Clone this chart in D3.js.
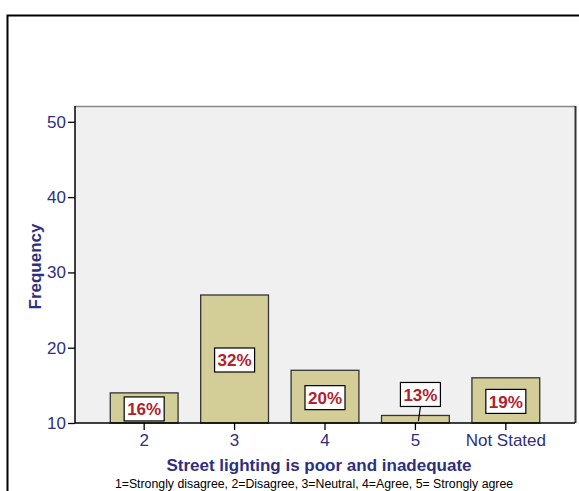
<!DOCTYPE html>
<html>
<head>
<meta charset="utf-8">
<script src="https://cdn.jsdelivr.net/npm/d3@7"></script>
<style>
	body { margin: 0; background: #fff; }
	text { font-family: "Liberation Sans", Arial, sans-serif; }
</style>
</head>
<body>
<div id="chart"></div>
<script>
var categories = ["2", "3", "4", "5", "Not Stated"];
var frequencies = [14, 27, 17, 11, 16];
var percentLabels = ["16%", "32%", "20%", "13%", "19%"];
var yTicks = [10, 20, 30, 40, 50];

var navy = "#2f2f7d";
var dims = { width: 579, height: 491 };
var plot = { left: 75, right: 575, top: 106, bottom: 423 };

var svg = d3.select("#chart")
	.append("svg")
	.attr("width", dims.width)
	.attr("height", dims.height);

// outer frame, runs off the right and bottom edges
svg.append("rect")
	.attr("x", 7.5)
	.attr("y", 15.5)
	.attr("width", 600)
	.attr("height", 600)
	.style("fill", "none")
	.style("stroke", "#000")
	.style("stroke-width", 2);

var x = d3.scaleBand()
	.domain(categories)
	.range([plot.left, plot.right])
	.paddingInner(0.25)
	.paddingOuter(0.39);

var y = d3.scaleLinear()
	.domain([10, 52.1])
	.range([plot.bottom, plot.top]);

// plot background
svg.append("rect")
	.attr("x", plot.left)
	.attr("y", plot.top)
	.attr("width", plot.right - plot.left)
	.attr("height", plot.bottom - plot.top)
	.style("fill", "#f0f0f0")
	.style("stroke", "none");
svg.append("line")
	.attr("x1", plot.left).attr("x2", plot.right)
	.attr("y1", plot.top + 0.5).attr("y2", plot.top + 0.5)
	.style("stroke", "#888").style("stroke-width", 1.5);
svg.append("line")
	.attr("x1", plot.right + 0.5).attr("x2", plot.right + 0.5)
	.attr("y1", plot.top).attr("y2", plot.bottom)
	.style("stroke", "#333").style("stroke-width", 2);

var data = categories.map(function(c, i) {
	return { cat: c, value: frequencies[i], label: percentLabels[i] };
});

svg.selectAll(".bar")
	.data(data)
	.enter()
	.append("rect")
	.attr("class", "bar")
	.attr("x", function(d) { return x(d.cat); })
	.attr("y", function(d) { return y(d.value); })
	.attr("width", x.bandwidth())
	.attr("height", function(d) { return y(10) - y(d.value); })
	.style("fill", "#d3cd98")
	.style("stroke", "#333")
	.style("stroke-width", 1.3);

// axes
var yAxis = svg.append("g")
	.attr("transform", "translate(" + plot.left + ",0)")
	.call(d3.axisLeft(y).tickValues(yTicks).tickSize(7).tickPadding(2));
var xAxis = svg.append("g")
	.attr("transform", "translate(0," + plot.bottom + ")")
	.call(d3.axisBottom(x).tickSize(7).tickPadding(4).tickSizeOuter(0));
[yAxis, xAxis].forEach(function(a) {
	a.select(".domain").style("stroke", "#000").style("stroke-width", 1.5);
	a.selectAll(".tick line").style("stroke", "#000").style("stroke-width", 1.3);
	a.selectAll(".tick text")
		.style("font-family", "'Liberation Sans', Arial, sans-serif")
		.style("font-size", "17px")
		.style("fill", navy);
});
yAxis.select(".domain").attr("d", "M0," + plot.top + "V" + plot.bottom);
xAxis.select(".domain").attr("d", "M" + plot.left + ",0H" + plot.right);

// percentage labels
var boxW = 40, boxH = 24;
var labels = svg.selectAll(".pct")
	.data(data)
	.enter()
	.append("g")
	.attr("class", "pct")
	.attr("transform", function(d) {
		var cx = x(d.cat) + x.bandwidth() / 2;
		var barH = y(10) - y(d.value);
		var cy;
		if (barH < boxH + 4) {
			cx += 5;
			cy = y(d.value) - 9 - boxH / 2;
		} else {
			cy = (y(d.value) + y(10)) / 2 + 1;
		}
		d.lx = cx; d.ly = cy;
		return "translate(" + cx + "," + cy + ")";
	});
labels.each(function(d) {
	if (y(10) - y(d.value) < boxH + 4) {
		var bx = x(d.cat) + x.bandwidth() / 2;
		svg.insert("line", ".pct")
			.attr("x1", d.lx).attr("y1", d.ly + boxH / 2)
			.attr("x2", bx + 3).attr("y2", (y(d.value) + y(10)) / 2 + 2)
			.style("stroke", "#000").style("stroke-width", 1.2);
	}
});
labels.append("rect")
	.attr("x", -boxW / 2)
	.attr("y", -boxH / 2)
	.attr("width", boxW)
	.attr("height", boxH)
	.style("fill", "#fff")
	.style("stroke", "#000")
	.style("stroke-width", 1.2);
labels.append("text")
	.attr("text-anchor", "middle")
	.attr("dy", "0.36em")
	.style("font-size", "17px")
	.style("font-weight", "bold")
	.style("fill", "#b2202c")
	.text(function(d) { return d.label; });

// titles
svg.append("text")
	.attr("x", 319)
	.attr("y", 471)
	.attr("text-anchor", "middle")
	.style("font-size", "17px")
	.style("font-weight", "bold")
	.style("fill", navy)
	.text("Street lighting is poor and inadequate");
svg.append("text")
	.attr("x", 314)
	.attr("y", 488)
	.attr("text-anchor", "middle")
	.style("font-size", "12.3px")
	.style("fill", "#000")
	.text("1=Strongly disagree, 2=Disagree, 3=Neutral, 4=Agree, 5= Strongly agree");
svg.append("text")
	.attr("transform", "translate(41," + ((plot.top + plot.bottom) / 2 + 2) + ") rotate(-90)")
	.attr("text-anchor", "middle")
	.style("font-size", "17px")
	.style("font-weight", "bold")
	.style("fill", navy)
	.text("Frequency");
</script>
</body>
</html>
